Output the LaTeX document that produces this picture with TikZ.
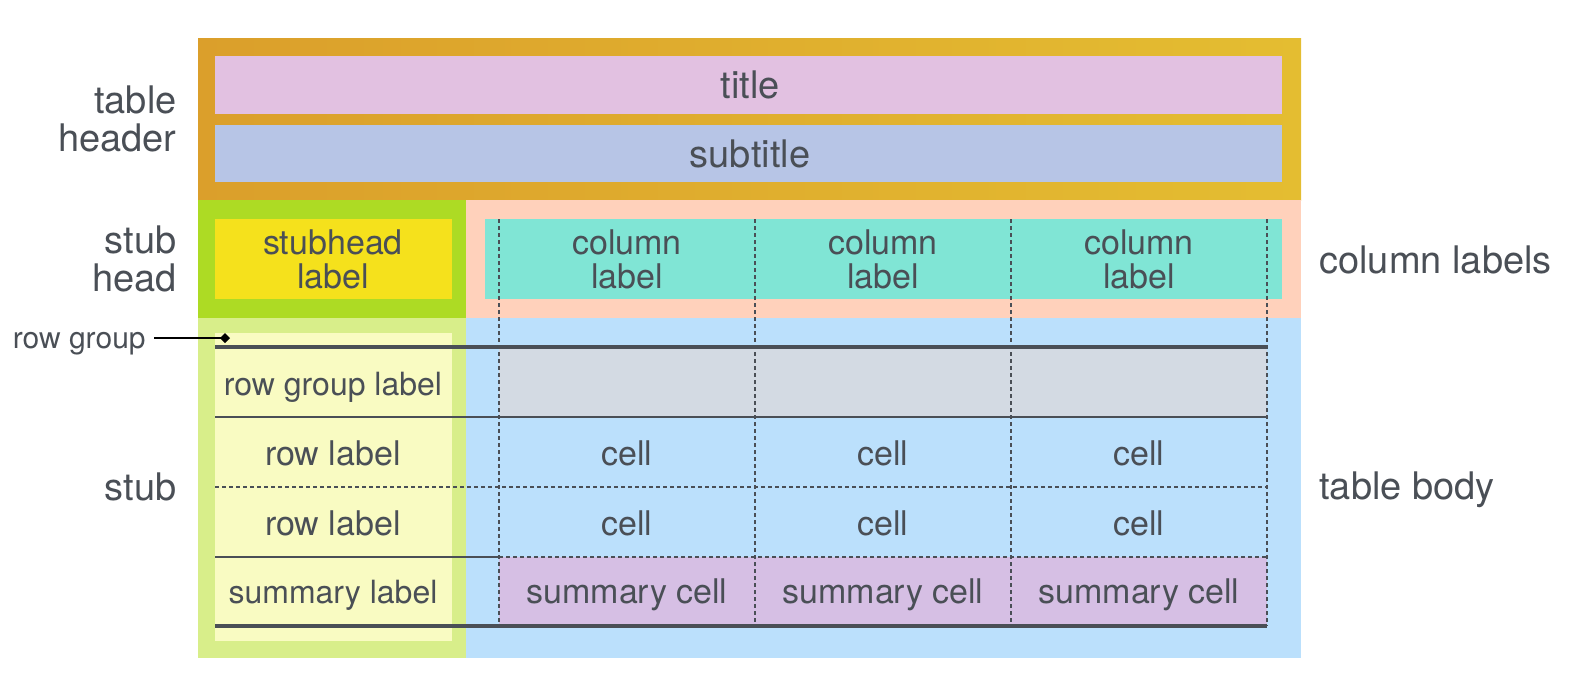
\documentclass[tikz,border=0pt]{standalone}
\usepackage{fontspec}
\setmainfont{TeX Gyre Heros}
\usetikzlibrary{positioning, arrows.meta}

\definecolor{ink}{RGB}{74,79,86}
\definecolor{hdrleft}{RGB}{219,159,43}
\definecolor{hdrright}{RGB}{228,189,49}
\definecolor{titlefill}{RGB}{226,193,225}
\definecolor{subfill}{RGB}{183,197,230}
\definecolor{stubheadfill}{RGB}{173,219,36}
\definecolor{shlabelfill}{RGB}{245,225,28}
\definecolor{colfill}{RGB}{255,209,187}
\definecolor{collabelfill}{RGB}{128,229,213}
\definecolor{stubfill}{RGB}{216,238,138}
\definecolor{stubinner}{RGB}{249,251,194}
\definecolor{bodyfill}{RGB}{187,224,252}
\definecolor{groupfill}{RGB}{211,218,227}
\definecolor{sumfill}{RGB}{214,191,228}

\begin{document}
\begin{tikzpicture}[x=0.5pt, y=-0.5pt,
    txt/.style={text=ink, font=\fontsize{17}{17}\selectfont, align=center, inner sep=0pt, anchor=base},
    squeezed/.style={txt, font=\fontsize{16}{16}\selectfont},
    big/.style={text=ink, font=\fontsize{19}{19}\selectfont, inner sep=0pt},
    leftlabel/.style={big, align=right, anchor=base east},
    rightlabel/.style={big, align=left, anchor=base west},
    thinrule/.style={draw=ink, line width=0.75pt},
    dashrule/.style={draw=ink, line width=0.75pt, dash pattern=on 2pt off 1.5pt},
    heavyrule/.style={draw=ink, line width=2.4pt}]
    \useasboundingbox (0,0) rectangle (1570,675);

    % header
    \shade[left color=hdrleft, right color=hdrright] (198,38) rectangle (1301,200);
    \fill[titlefill] (215,56) rectangle (1282,114);
    \fill[subfill] (215,125) rectangle (1282,182);
    \node[big, anchor=base] (title) at (750,98) {title};
    \node[big, anchor=base] (subtitle) at (750,167) {subtitle};

    % stub head and column labels
    \fill[stubheadfill] (198,200) rectangle (466,318);
    \fill[shlabelfill] (215,219) rectangle (452,299);
    \fill[colfill] (466,200) rectangle (1301,318);
    \fill[collabelfill] (485,219) rectangle (1282,299);
    \node[txt] (stubheadlabel) at (333,288) {stubhead\\label};

    % stub and body
    \fill[stubfill] (198,318) rectangle (466,658);
    \fill[stubinner] (215,333) rectangle (452,641);
    \fill[bodyfill] (466,318) rectangle (1301,658);
    \fill[groupfill] (499,347) rectangle (1267,417);
    \fill[sumfill] (499,557) rectangle (1267,626);

    \node[squeezed] (grouplabel) at (333,395) {row group label};
    \node[txt] (rowlabelA) at (333,465) {row label};
    \node[txt] (rowlabelB) at (333,535) {row label};
    \node[squeezed] (sumlabel) at (333,603) {summary label};

    \foreach \c [count=\i] in {627,883,1139} {
        \node[txt] (collabel\i) at (\c,288) {column\\label};
        \node[txt] (cellA\i) at (\c,465) {cell};
        \node[txt] (cellB\i) at (\c,535) {cell};
        \node[txt] (sumcell\i) at (\c,603) {summary cell};
    }

    % rules
    \foreach \x in {499,755,1011,1267}
        \draw[dashrule] (\x,219) -- (\x,626);
    \draw[thinrule] (215,417) -- (1267,417);
    \draw[dashrule] (215,487) -- (1267,487);
    \draw[thinrule] (215,557) -- (499,557);
    \draw[dashrule] (499,557) -- (1267,557);
    \draw[heavyrule] (215,347) -- (1267,347);
    \draw[heavyrule] (215,626) -- (1267,626);

    % side labels
    \node[leftlabel] (tableheader) at (177,151) {table\\header};
    \node[leftlabel] (stubhead) at (177,291) {stub\\head};
    \node[leftlabel] (stub) at (177,500) {stub};
    \node[rightlabel] (columnlabels) at (1319,273) {column labels};
    \node[rightlabel] (tablebody) at (1319,499) {table body};

    % row group pointer
    \node[text=ink, font=\fontsize{15}{15}\selectfont, inner sep=0pt, anchor=base east] (rowgroup) at (146,348) {row group};
    \coordinate (groupmark) at (230,338);
    \draw[black, line width=0.6pt, -{Diamond[length=5pt, width=5pt]}] ([xshift=4pt]rowgroup.east |- groupmark) -- (groupmark);
\end{tikzpicture}
\end{document}
